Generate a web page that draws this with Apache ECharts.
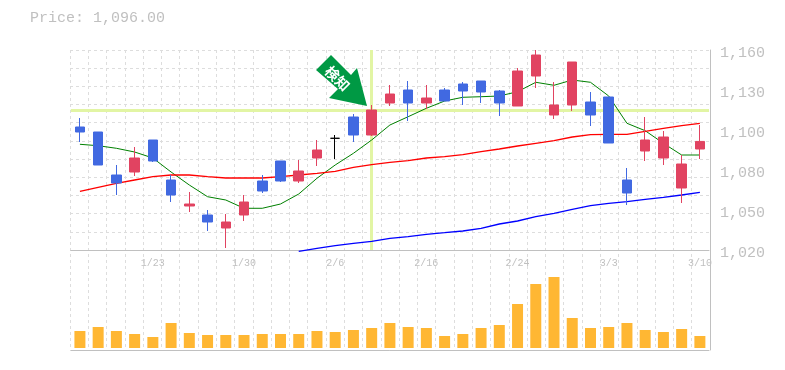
<!DOCTYPE html>
<html><head><meta charset="utf-8">
<style>html,body{margin:0;padding:0;background:#fff}#c{width:785px;height:370px}</style>
<script src="https://cdn.jsdelivr.net/npm/echarts@6/dist/echarts.min.js"></script>
</head><body><div id="c"></div>
<script>
const categories = ['1/17','1/20','1/21','1/22','1/23','1/24','1/27','1/28','1/29','1/30','1/31','2/3','2/4','2/5','2/6','2/7','2/10','2/12','2/13','2/16','2/17','2/18','2/19','2/20','2/24','2/25','2/26','2/27','2/28','3/3','3/4','3/5','3/6','3/7','3/10'];
const priceLabels = ['1,020','1,050','1,080','1,100','1,130','1,160'];
// open, close, low, high
const candles = [
[1106.1,1102.6,1095.6,1112.4],[1102.6,1079.5,1079.5,1102.6],[1072.5,1066.9,1058.5,1079.5],[1074.6,1084.4,1071.8,1092.1],
[1097,1082.3,1081.6,1097],[1069,1058.5,1053.6,1072.5],[1050.8,1052.2,1046.6,1060.6],[1044.5,1039.6,1033.3,1048],
[1035.4,1039.6,1021.4,1045.2],[1044.5,1053.6,1040.3,1058.5],[1068.3,1061.3,1059.9,1072.5],[1082.3,1068.3,1067.6,1082.3],
[1068.3,1075.3,1066.9,1083],[1084.4,1090,1078.8,1097],[1098.2,1098.2,1083.7,1100.5],[1113.1,1100.5,1095.6,1115.2],
[1100.5,1118,1099.8,1121.5],[1122.9,1129.2,1120.8,1135.5],[1132,1122.9,1110.3,1138.3],[1122.9,1126.4,1118.7,1135.5],
[1132,1124.3,1124.3,1133.4],[1136.2,1131.3,1121.5,1137.6],[1138.3,1130.6,1122.9,1138.3],[1131.3,1122.9,1113.8,1132],
[1120.8,1145.3,1120.8,1147.4],[1141.8,1156.5,1133.4,1160],[1114.5,1121.5,1111.7,1137.6],[1121.5,1151.6,1117.3,1151.6],
[1123.6,1114.5,1106.8,1130.6],[1127.1,1094.9,1094.9,1127.1],[1069,1059.9,1051.5,1077.4],[1089.3,1097,1082.3,1113.1],
[1084.4,1099.1,1079.5,1103.3],[1063.4,1080.2,1052.9,1086.5],[1090.7,1096,1083.7,1107.5]];
const maShort = [1094,1093,1091.2,1088.6,1084.4,1074.6,1065.5,1057.3,1055,1049.2,1049.2,1052.2,1059.2,1070.2,1079.5,1087.7,1097,1107.5,1113.3,1119.2,1124.3,1126.9,1127.3,1127.8,1130.8,1137.4,1135.3,1139,1137.4,1127.8,1108.7,1103.5,1094.7,1086.5,1086.5];
const maMid = [1061.1,1063.9,1066.7,1069,1071.3,1072.5,1072.5,1071.3,1070.4,1070.4,1070.4,1071.3,1072.5,1073.7,1075.1,1077.9,1079.7,1081.4,1082.5,1084.4,1085.3,1086.7,1088.8,1090.7,1092.8,1094.7,1096.5,1099.1,1100.7,1101,1101,1103.1,1105.2,1107,1108.7];
const maLong = [null,null,null,null,null,null,null,null,null,null,null,null,1019.1,1021.2,1023,1024.7,1026.1,1028.2,1029.3,1031,1032.1,1033.3,1035.2,1038.2,1040.3,1043.3,1045.7,1048.5,1051,1052.7,1053.8,1055.5,1056.9,1058.5,1060.4];
const volumes = [17,21,17,14,11,25,15,13,13,13,14,14,14,17,16,18,20,25,21,20,12,14,20,23,44,64,71,30,20,21,25,18,16,19,12];
const priceTitle = 'Price: 1,096.00';
const markIndex = 16, markPrice = 1117.65;

const GRAY='#c0c0c0', GRID='#dddddd', FONT='"Liberation Mono",monospace';
const RED='#e14361', BLUE='#4169e1';
const hidden={show:false};
const dashed={show:true,lineStyle:{color:GRID,type:[3,3],width:1}};
const chart=echarts.init(document.getElementById('c'),null,{renderer:'canvas'});
chart.setOption({
 animation:false,backgroundColor:'#fff',
 title:{text:priceTitle,left:30,top:11,padding:0,textStyle:{fontFamily:FONT,fontSize:15,fontWeight:'normal',color:GRAY}},
 grid:[
  {left:70,top:50,width:640,height:200},
  {left:70,top:50,width:640,height:300},
  {left:70.8,top:50,width:638.2,height:200},
  {left:70.8,top:250,width:638.2,height:100},
  {left:70,top:53,width:640,height:200}
 ],
 xAxis:[
  {gridIndex:0,type:'value',min:0,max:1,show:false},
  {gridIndex:1,type:'value',min:0,max:35,interval:1,axisLine:hidden,axisTick:hidden,axisLabel:hidden,splitLine:dashed},
  {gridIndex:2,type:'category',data:categories,axisLine:{show:true,onZero:false,lineStyle:{color:GRAY,width:1}},axisTick:hidden,
   axisLabel:{interval:(i)=>i%5===4,color:GRAY,fontFamily:FONT,fontSize:10,margin:8},splitLine:hidden},
  {gridIndex:3,type:'category',data:categories,axisLine:{show:true,onZero:false,lineStyle:{color:GRAY,width:1}},axisTick:hidden,axisLabel:hidden},
  {gridIndex:4,type:'value',min:0,max:1,show:false}
 ],
 yAxis:[
  {gridIndex:0,type:'value',min:0,max:11,interval:1,axisLine:hidden,axisTick:hidden,axisLabel:hidden,splitLine:dashed},
  {gridIndex:4,type:'value',position:'right',min:0,max:5,interval:1,axisLine:hidden,axisTick:hidden,splitLine:hidden,
   axisLabel:{formatter:(v)=>priceLabels[v],color:GRAY,fontFamily:FONT,fontSize:15,margin:10}},
  {gridIndex:1,type:'value',position:'right',min:0,max:1,axisLine:{show:true,onZero:false,lineStyle:{color:GRAY,width:1}},axisTick:hidden,axisLabel:hidden,splitLine:hidden},
  {gridIndex:2,type:'value',min:1020,max:1160,show:false,splitLine:hidden},
  {gridIndex:3,type:'value',min:-2,max:98,show:false,splitLine:hidden}
 ],
 series:[
  {type:'line',name:'guide',xAxisIndex:2,yAxisIndex:3,data:[],z:1,silent:true,
   markLine:{silent:true,symbol:'none',z:1,label:{show:false},animation:false,
    lineStyle:{color:'#e2f5a4',width:3,type:'solid'},
    data:[{yAxis:markPrice},{xAxis:categories[markIndex]}]}},
  {type:'line',name:'short',xAxisIndex:2,yAxisIndex:3,data:maShort,symbol:'none',z:2,lineStyle:{color:'#008000',width:1}},
  {type:'line',name:'mid',xAxisIndex:2,yAxisIndex:3,data:maMid,symbol:'none',z:2,lineStyle:{color:'#ff0000',width:1.3}},
  {type:'line',name:'long',xAxisIndex:2,yAxisIndex:3,data:maLong,symbol:'none',z:2,clip:false,lineStyle:{color:'#0000ff',width:1.3}},
  {type:'candlestick',name:'price',xAxisIndex:2,yAxisIndex:3,data:candles,barWidth:10,z:3,
   itemStyle:{color:RED,color0:BLUE,borderColor:RED,borderColor0:BLUE,borderColorDoji:'#000',borderWidth:1}},
  {type:'bar',name:'volume',xAxisIndex:3,yAxisIndex:4,data:volumes,barWidth:11,itemStyle:{color:'#ffb733'}}
 ],
 graphic:[
  {type:'polygon',z:20,shape:{points:[[331,55],[351,75],[357,68],[367,106],[329,98],[338,89],[316,70]]},style:{fill:'#009944'}},
  {type:'text',z:21,x:337.5,y:78.5,rotation:-Math.PI/4,style:{text:'検知',fill:'#fff',font:'bold 14px "Noto Sans CJK JP"',align:'center',verticalAlign:'middle'}}
 ]
});
</script></body></html>
